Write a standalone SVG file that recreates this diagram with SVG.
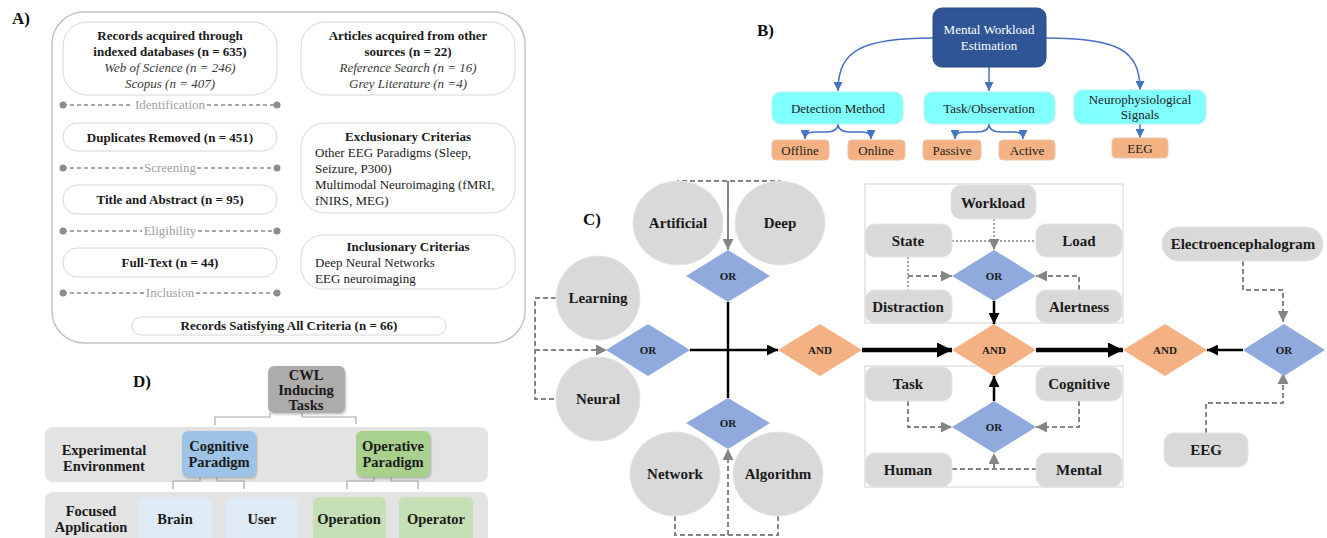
<svg xmlns="http://www.w3.org/2000/svg" width="1327" height="538" viewBox="0 0 1327 538">
<style>
text { font-family: "Liberation Serif", "Times New Roman", serif; }
.lbl { font-size: 17px; font-weight: bold; fill: #111; }
.c { text-anchor: middle; }
.a { font-size: 13px; fill: #1a1a1a; }
.ab { font-size: 13px; font-weight: bold; fill: #1a1a1a; }
.ai { font-size: 13px; font-style: italic; fill: #3a3a3a; }
.ph { font-size: 13px; fill: #a0a0a0; text-anchor: middle; }
.outer { fill: #fff; stroke: #c4c4c4; stroke-width: 1.5; }
.abox { fill: #fff; stroke: #d6d6d6; stroke-width: 1; }
.phl { stroke: #8c8c8c; stroke-width: 1.5; stroke-dasharray: 4 3; fill: none; }
.dot { fill: #8c8c8c; }
.btop { fill: #2F5597; stroke: #2a4a85; stroke-width: 1; }
.bcy { fill: #80FFFF; stroke: #b8eeee; stroke-width: 1; }
.bor { fill: #F4B183; stroke: #e8c4a8; stroke-width: 1; }
.bt { font-size: 13px; fill: #222; text-anchor: middle; }
.btw { font-size: 13px; fill: #fff; text-anchor: middle; }
.bl { stroke: #4472C4; stroke-width: 1.5; fill: none; }
.circ { fill: #D9D9D9; stroke: #e4e4e4; stroke-width: 1; }
.gbox { fill: #D9D9D9; stroke: #e4e4e4; stroke-width: 1; }
.frame { fill: none; stroke: #d4d4d4; stroke-width: 1; }
.dor { fill: #8FAADC; }
.dand { fill: #F4B183; }
.cn { font-size: 15px; font-weight: bold; fill: #1a1a1a; text-anchor: middle; }
.dt { font-size: 11px; font-weight: bold; fill: #1a1a1a; text-anchor: middle; }
.dash { stroke: #858585; stroke-width: 2; stroke-dasharray: 5 3; fill: none; }
.dotl { stroke: #858585; stroke-width: 1.5; stroke-dasharray: 2 2; fill: none; }
.gs { stroke: #858585; stroke-width: 2; fill: none; }
.blk { stroke: #000; stroke-width: 2.5; fill: none; }
.thk { stroke: #000; stroke-width: 4.5; fill: none; }
.band { fill: #E3E3E3; }
.dt2 { font-size: 14.5px; font-weight: bold; fill: #1a1a1a; text-anchor: middle; }
.dl { stroke: #a6a6a6; stroke-width: 1.2; fill: none; }
</style>
<defs>
<marker id="mg" viewBox="0 0 10 10" refX="10" refY="5" markerUnits="userSpaceOnUse" markerWidth="11" markerHeight="11" orient="auto"><path d="M0,0 L10,5 L0,10 z" fill="#858585"/></marker>
<marker id="mk" viewBox="0 0 10 10" refX="10" refY="5" markerUnits="userSpaceOnUse" markerWidth="12" markerHeight="11" orient="auto"><path d="M0,0 L10,5 L0,10 z" fill="#000"/></marker>
<marker id="mkb" viewBox="0 0 10 10" refX="10" refY="5" markerUnits="userSpaceOnUse" markerWidth="22" markerHeight="15" orient="auto"><path d="M0,0 L10,5 L0,10 z" fill="#000"/></marker>
<marker id="mb" viewBox="0 0 10 10" refX="10" refY="5" markerUnits="userSpaceOnUse" markerWidth="9" markerHeight="9" orient="auto"><path d="M0,0 L10,5 L0,10 z" fill="#4472C4"/></marker>
<filter id="sh" x="-10%" y="-10%" width="130%" height="130%"><feDropShadow dx="1" dy="1.5" stdDeviation="1" flood-color="#000" flood-opacity="0.25"/></filter>
</defs>

<!-- ================= Panel A ================= -->
<g id="panelA">
<text class="lbl" x="12" y="24">A)</text>
<rect class="outer" x="52" y="12" width="473" height="331" rx="32"/>
<g id="a-records">
<rect class="abox" x="63" y="22" width="214" height="73" rx="24"/>
<text class="ab c" x="170" y="40">Records acquired through</text>
<text class="ab c" x="170" y="56">indexed databases (n = 635)</text>
<text class="ai c" x="170" y="72">Web of Science (n = 246)</text>
<text class="ai c" x="170" y="88">Scopus (n = 407)</text>
</g>
<g id="a-articles">
<rect class="abox" x="301" y="22" width="214" height="73" rx="24"/>
<text class="ab c" x="408" y="40">Articles acquired from other</text>
<text class="ab c" x="408" y="56">sources (n = 22)</text>
<text class="ai c" x="408" y="72">Reference Search (n = 16)</text>
<text class="ai c" x="408" y="88">Grey Literature (n =4)</text>
</g>
<g id="a-dup">
<rect class="abox" x="63" y="123" width="214" height="28" rx="14"/>
<text class="ab c" x="170" y="142">Duplicates Removed (n = 451)</text>
</g>
<g id="a-excl">
<rect class="abox" x="301" y="123" width="214" height="90" rx="24"/>
<text class="ab c" x="408" y="141">Exclusionary Criterias</text>
<text class="a" x="315" y="157">Other EEG Paradigms (Sleep,</text>
<text class="a" x="315" y="173">Seizure, P300)</text>
<text class="a" x="315" y="189">Multimodal Neuroimaging (fMRI,</text>
<text class="a" x="315" y="205">fNIRS, MEG)</text>
</g>
<g id="a-title">
<rect class="abox" x="63" y="185" width="214" height="29" rx="14"/>
<text class="ab c" x="170" y="204">Title and Abstract (n = 95)</text>
</g>
<g id="a-incl">
<rect class="abox" x="301" y="235" width="214" height="54" rx="22"/>
<text class="ab c" x="408" y="251">Inclusionary Criterias</text>
<text class="a" x="315" y="267">Deep Neural Networks</text>
<text class="a" x="315" y="283">EEG neuroimaging</text>
</g>
<g id="a-full">
<rect class="abox" x="63" y="248" width="214" height="29" rx="14"/>
<text class="ab c" x="170" y="267">Full-Text  (n = 44)</text>
</g>
<g id="a-final">
<rect class="abox" x="132" y="317" width="314" height="18" rx="9"/>
<text class="ab c" x="289" y="330">Records Satisfying All Criteria  (n = 66)</text>
</g>
<g id="a-phases">
<path class="phl" d="M63,105 L133,105 M207,105 L277,105"/>
<circle class="dot" cx="63" cy="105" r="3.5"/><circle class="dot" cx="277" cy="105" r="3.5"/>
<text class="ph" x="170" y="109">Identification</text>
<path class="phl" d="M63,168 L143,168 M197,168 L277,168"/>
<circle class="dot" cx="63" cy="168" r="3.5"/><circle class="dot" cx="277" cy="168" r="3.5"/>
<text class="ph" x="170" y="172">Screening</text>
<path class="phl" d="M63,231 L142,231 M198,231 L277,231"/>
<circle class="dot" cx="63" cy="231" r="3.5"/><circle class="dot" cx="277" cy="231" r="3.5"/>
<text class="ph" x="170" y="235">Eligibility</text>
<path class="phl" d="M63,293 L144,293 M196,293 L277,293"/>
<circle class="dot" cx="63" cy="293" r="3.5"/><circle class="dot" cx="277" cy="293" r="3.5"/>
<text class="ph" x="170" y="297">Inclusion</text>
</g>
</g>

<!-- ================= Panel B ================= -->
<g id="panelB">
<text class="lbl" x="757" y="36">B)</text>
<g id="b-connectors">
<path class="bl" d="M933,38 C862,38 838,50 838,91" marker-end="url(#mb)"/>
<path class="bl" d="M1046,38 C1118,38 1140,50 1140,90" marker-end="url(#mb)"/>
<path class="bl" d="M989,67 L989,91" marker-end="url(#mb)"/>
<path class="bl" d="M838,124 Q838,132 826,132 L814,132 Q805,132 805,139" marker-end="url(#mb)"/>
<path class="bl" d="M838,124 Q838,132 850,132 L862,132 Q871,132 871,139" marker-end="url(#mb)"/>
<path class="bl" d="M989,124 Q989,132 977,132 L964,132 Q955,132 955,139" marker-end="url(#mb)"/>
<path class="bl" d="M989,124 Q989,132 1001,132 L1014,132 Q1023,132 1023,139" marker-end="url(#mb)"/>
<path class="bl" d="M1140,124 L1140,138" marker-end="url(#mb)"/>
</g>
<g id="b-mwe"><rect class="btop" x="933" y="8" width="113" height="59" rx="9"/>
<text class="btw" x="989" y="34">Mental Workload</text><text class="btw" x="989" y="50">Estimation</text></g>
<g id="b-det"><rect class="bcy" x="772" y="92" width="131" height="32" rx="9"/><text class="bt" x="838" y="113">Detection Method</text></g>
<g id="b-task"><rect class="bcy" x="924" y="92" width="131" height="32" rx="9"/><text class="bt" x="989" y="113">Task/Observation</text></g>
<g id="b-neuro"><rect class="bcy" x="1074" y="90" width="132" height="34" rx="9"/><text class="bt" x="1140" y="104">Neurophysiological</text><text class="bt" x="1140" y="119">Signals</text></g>
<g id="b-offline"><rect class="bor" x="772" y="140" width="57" height="20" rx="4"/><text class="bt" x="800" y="155">Offline</text></g>
<g id="b-online"><rect class="bor" x="848" y="140" width="57" height="20" rx="4"/><text class="bt" x="876" y="155">Online</text></g>
<g id="b-passive"><rect class="bor" x="923" y="140" width="58" height="20" rx="4"/><text class="bt" x="952" y="155">Passive</text></g>
<g id="b-active"><rect class="bor" x="999" y="140" width="56" height="20" rx="4"/><text class="bt" x="1027" y="155">Active</text></g>
<g id="b-eeg"><rect class="bor" x="1112" y="138" width="56" height="20" rx="4"/><text class="bt" x="1140" y="153">EEG</text></g>
</g>

<!-- ================= Panel C ================= -->
<g id="panelC">
<text class="lbl" x="583" y="225">C)</text>
<rect class="frame" x="865" y="184" width="258" height="139"/>
<rect class="frame" x="865" y="366" width="258" height="121"/>

<g id="c-connectors">
<path class="dash" d="M678,185 L678,181 L780,181 L780,185"/>
<path class="gs" d="M728,181 L728,250" marker-end="url(#mg)"/>
<path class="dash" d="M556,298 L535,298 L535,399 L556,399"/>
<path class="dash" d="M535,350 L607,350" marker-end="url(#mg)"/>
<path class="dash" d="M675,516 L675,535 L778,535 L778,516"/>
<path class="dash" d="M728,535 L728,449" marker-end="url(#mg)"/>
<path class="blk" d="M728,302 L728,398"/>
<path class="blk" d="M690,350 L778,350" marker-end="url(#mk)"/>
<path class="thk" d="M862,350 L952,350" marker-end="url(#mkb)"/>
<path class="thk" d="M1036,350 L1123,350" marker-end="url(#mkb)"/>
<path class="blk" d="M1243,350 L1207,350" marker-end="url(#mk)"/>
<path class="dotl" d="M994,219 L994,250" marker-end="url(#mg)"/>
<path class="dotl" d="M952,241 L1036,241"/>
<path class="dotl" d="M908,257 L908,290"/>
<path class="dash" d="M908,276 L952,276" marker-end="url(#mg)"/>
<path class="dash" d="M1079,290 L1079,276 L1036,276" marker-end="url(#mg)"/>
<path class="blk" d="M994,301 L994,324" marker-end="url(#mk)"/>
<path class="dash" d="M908,401 L908,427 L952,427" marker-end="url(#mg)"/>
<path class="dash" d="M1079,401 L1079,427 L1036,427" marker-end="url(#mg)"/>
<path class="dash" d="M952,469 L1036,469"/>
<path class="dash" d="M994,469 L994,453" marker-end="url(#mg)"/>
<path class="blk" d="M994,401 L994,376" marker-end="url(#mk)"/>
<path class="dash" d="M1243,261 L1243,290 L1283,290 L1283,322" marker-end="url(#mg)"/>
<path class="dash" d="M1206,433 L1206,403 L1283,403 L1283,373" marker-end="url(#mg)"/>
</g>

<g id="c-artificial"><ellipse class="circ" cx="678" cy="223" rx="45" ry="42"/><text class="cn" x="678" y="228">Artificial</text></g>
<g id="c-deep"><ellipse class="circ" cx="780" cy="223" rx="45" ry="42"/><text class="cn" x="780" y="228">Deep</text></g>
<g id="c-learning"><ellipse class="circ" cx="598" cy="298" rx="42" ry="42"/><text class="cn" x="598" y="303">Learning</text></g>
<g id="c-neural"><ellipse class="circ" cx="598" cy="399" rx="42" ry="42"/><text class="cn" x="598" y="404">Neural</text></g>
<g id="c-network"><ellipse class="circ" cx="675" cy="474" rx="45" ry="42"/><text class="cn" x="675" y="479">Network</text></g>
<g id="c-algorithm"><ellipse class="circ" cx="778" cy="474" rx="45" ry="42"/><text class="cn" x="778" y="479">Algorithm</text></g>

<g id="c-or1"><polygon class="dor" points="728,250 770,276 728,302 686,276"/><text class="dt" x="728" y="280">OR</text></g>
<g id="c-or2"><polygon class="dor" points="648,324 690,350 648,376 606,350"/><text class="dt" x="648" y="354">OR</text></g>
<g id="c-or3"><polygon class="dor" points="728,398 770,423 728,449 686,423"/><text class="dt" x="728" y="427">OR</text></g>
<g id="c-and1"><polygon class="dand" points="820,324 862,350 820,376 778,350"/><text class="dt" x="820" y="354">AND</text></g>

<g id="c-workload"><rect class="gbox" x="951" y="185" width="85" height="34" rx="10"/><text class="cn" x="993" y="208">Workload</text></g>
<g id="c-state"><rect class="gbox" x="865" y="224" width="87" height="33" rx="10"/><text class="cn" x="908" y="246">State</text></g>
<g id="c-load"><rect class="gbox" x="1036" y="224" width="86" height="33" rx="10"/><text class="cn" x="1079" y="246">Load</text></g>
<g id="c-distraction"><rect class="gbox" x="865" y="290" width="87" height="33" rx="10"/><text class="cn" x="908" y="312">Distraction</text></g>
<g id="c-alertness"><rect class="gbox" x="1036" y="290" width="86" height="33" rx="10"/><text class="cn" x="1079" y="312">Alertness</text></g>
<g id="c-or4"><polygon class="dor" points="994,250 1036,276 994,301 952,276"/><text class="dt" x="994" y="280">OR</text></g>
<g id="c-and2"><polygon class="dand" points="994,324 1036,350 994,376 952,350"/><text class="dt" x="994" y="354">AND</text></g>

<g id="c-task"><rect class="gbox" x="865" y="367" width="87" height="34" rx="10"/><text class="cn" x="908" y="389">Task</text></g>
<g id="c-cognitive"><rect class="gbox" x="1036" y="367" width="86" height="34" rx="10"/><text class="cn" x="1079" y="389">Cognitive</text></g>
<g id="c-human"><rect class="gbox" x="865" y="453" width="87" height="34" rx="10"/><text class="cn" x="908" y="475">Human</text></g>
<g id="c-mental"><rect class="gbox" x="1036" y="453" width="86" height="34" rx="10"/><text class="cn" x="1079" y="475">Mental</text></g>
<g id="c-or5"><polygon class="dor" points="994,401 1036,427 994,453 952,427"/><text class="dt" x="994" y="431">OR</text></g>

<g id="c-and3"><polygon class="dand" points="1165,324 1207,350 1165,376 1123,350"/><text class="dt" x="1165" y="354">AND</text></g>
<g id="c-or6"><polygon class="dor" points="1284,324 1325,350 1284,376 1243,350"/><text class="dt" x="1284" y="354">OR</text></g>
<g id="c-eeg-long"><rect class="gbox" x="1162" y="227" width="161" height="34" rx="17"/><text class="cn" x="1243" y="249">Electroencephalogram</text></g>
<g id="c-eeg"><rect class="gbox" x="1164" y="433" width="84" height="34" rx="10"/><text class="cn" x="1206" y="455">EEG</text></g>
</g>

<!-- ================= Panel D ================= -->
<g id="panelD">
<text class="lbl" x="133" y="387">D)</text>
<rect class="band" x="45" y="427" width="443" height="55" rx="8"/>
<rect class="band" x="45" y="492" width="443" height="70" rx="8"/>
<g id="d-connectors">
<path class="dl" d="M270,413 L270,417 L215,417 L215,425"/>
<path class="dl" d="M302,413 L302,417 L356,417 L356,424"/>
<path class="dl" d="M200,477 L200,481 L173,481 L173,489"/>
<path class="dl" d="M217,477 L217,481 L244,481 L244,489"/>
<path class="dl" d="M374,477 L374,481 L347,481 L347,489"/>
<path class="dl" d="M391,477 L391,481 L418,481 L418,489"/>
</g>
<g id="d-cwl"><rect x="268" y="366" width="77" height="47" rx="6" fill="#AEABAB" filter="url(#sh)"/>
<text class="dt2" x="306" y="380">CWL</text><text class="dt2" x="306" y="395">Inducing</text><text class="dt2" x="306" y="410">Tasks</text></g>
<g id="d-exp"><text class="dt2" x="104" y="455">Experimental</text><text class="dt2" x="104" y="471">Environment</text></g>
<g id="d-cog"><rect x="182" y="431" width="74" height="46" rx="6" fill="#9DC3E6" filter="url(#sh)"/>
<text class="dt2" x="219" y="451">Cognitive</text><text class="dt2" x="219" y="467">Paradigm</text></g>
<g id="d-op"><rect x="356" y="431" width="74" height="46" rx="6" fill="#A9D18E" filter="url(#sh)"/>
<text class="dt2" x="393" y="451">Operative</text><text class="dt2" x="393" y="467">Paradigm</text></g>
<g id="d-foc"><text class="dt2" x="91" y="516">Focused</text><text class="dt2" x="91" y="532">Application</text></g>
<g id="d-brain"><rect x="138" y="497" width="74" height="60" rx="6" fill="#DEEBF7"/><text class="dt2" x="175" y="524">Brain</text></g>
<g id="d-user"><rect x="226" y="497" width="72" height="60" rx="6" fill="#DEEBF7"/><text class="dt2" x="262" y="524">User</text></g>
<g id="d-operation"><rect x="313" y="497" width="73" height="60" rx="6" fill="#C5E0B4"/><text class="dt2" x="349" y="524">Operation</text></g>
<g id="d-operator"><rect x="399" y="497" width="74" height="60" rx="6" fill="#C5E0B4"/><text class="dt2" x="436" y="524">Operator</text></g>
</g>
</svg>
